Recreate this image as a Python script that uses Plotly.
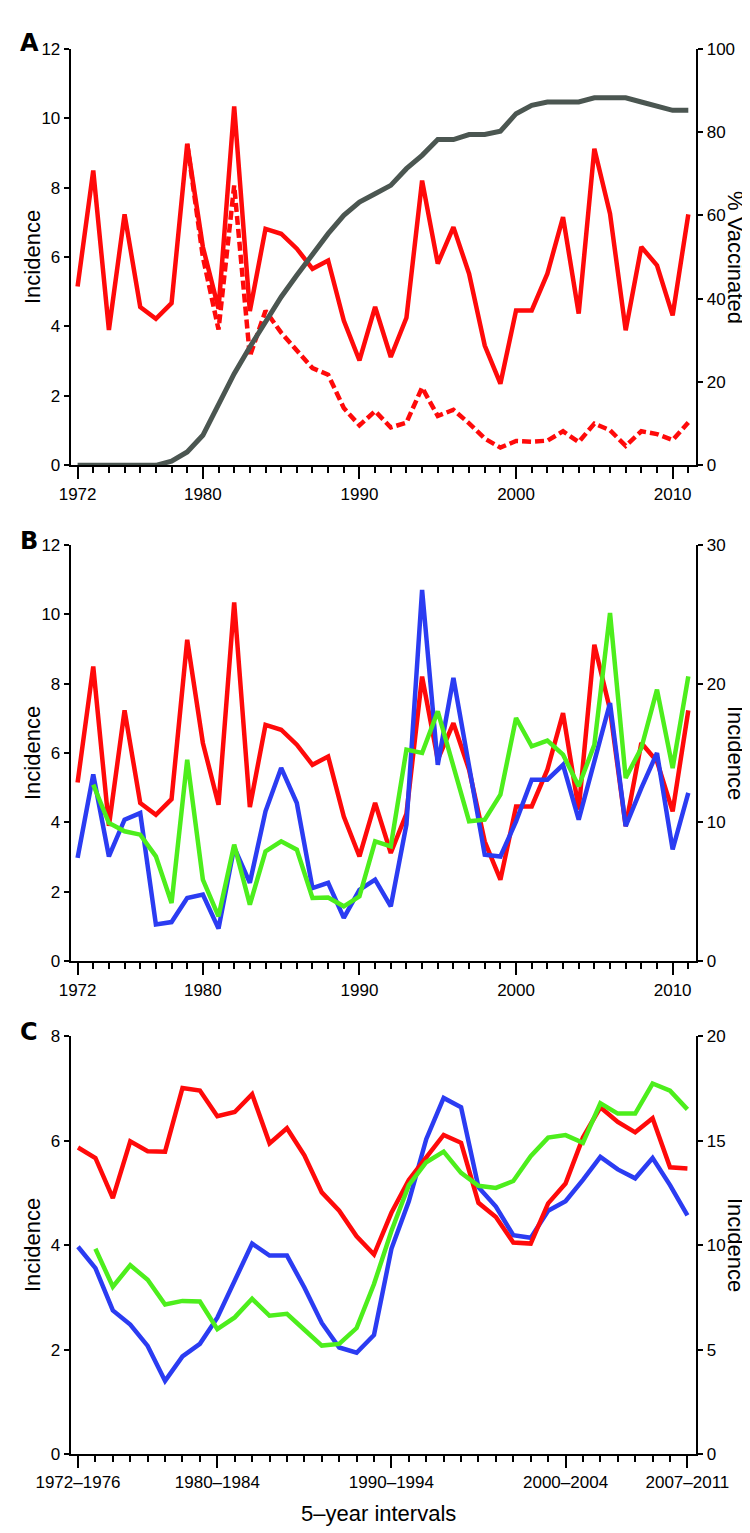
import plotly.graph_objects as go

# ---------------- data ----------------
years = list(range(1972, 2012))
years_dashed = list(range(1979, 2012))
years_green = list(range(1973, 2012))

incidence_all = [5.15, 8.49, 3.90, 7.23, 4.56, 4.22, 4.67, 9.26, 6.29, 4.51,
                 10.34, 4.44, 6.81, 6.67, 6.24, 5.66, 5.90, 4.17, 3.02, 4.56,
                 3.12, 4.25, 8.20, 5.81, 6.86, 5.52, 3.45, 2.35, 4.46, 4.46,
                 5.52, 7.15, 4.37, 9.12, 7.25, 3.89, 6.29, 5.76, 4.32, 7.23]

incidence_dashed = [9.26, 6.00, 3.91, 8.06, 3.14, 4.45, 3.82, 3.29, 2.80, 2.61,
                    1.65, 1.15, 1.56, 1.09, 1.23, 2.24, 1.42, 1.60, 1.21, 0.77,
                    0.51, 0.70, 0.68, 0.71, 0.98, 0.67, 1.20, 1.01, 0.56, 0.98,
                    0.90, 0.73, 1.23]

pct_vaccinated = [0, 0, 0, 0, 0, 0, 1.0, 3.2, 7.2, 14.8,
                  22.0, 28.4, 34.4, 40.4, 45.6, 50.8, 55.6, 60.0, 63.2, 65.2,
                  67.2, 71.2, 74.4, 78.2, 78.2, 79.4, 79.4, 80.2, 84.4, 86.4,
                  87.2, 87.2, 87.2, 88.2, 88.2, 88.2, 87.2, 86.2, 85.2, 85.2]

blue_b = [2.98, 5.38, 3.02, 4.08, 4.27, 1.06, 1.13, 1.82, 1.92, 0.94,
          3.28, 2.26, 4.32, 5.57, 4.56, 2.11, 2.26, 1.25, 2.06, 2.35,
          1.58, 3.94, 10.70, 5.66, 8.16, 5.57, 3.07, 3.02, 4.03, 5.23,
          5.23, 5.66, 4.08, 5.76, 7.44, 3.89, 4.99, 6.00, 3.22, 4.85]

green_b = [12.72, 9.96, 9.36, 9.12, 7.56, 4.20, 14.52, 5.88, 3.24, 8.40,
           4.08, 7.92, 8.64, 8.04, 4.56, 4.60, 3.96, 4.68, 8.64, 8.28,
           15.24, 15.00, 18.00, 14.16, 10.08, 10.20, 12.00, 17.52, 15.48, 15.89,
           14.88, 12.60, 15.60, 25.08, 13.20, 15.36, 19.56, 13.92, 20.52]

interval_start = list(range(1972, 2008))
interval_labels = [f"{y}\u2013{y + 4}" for y in interval_start]
interval_start_green = list(range(1973, 2008))

red_c = [5.87, 5.67, 4.90, 5.99, 5.80, 5.79, 7.01, 6.96, 6.47, 6.55,
         6.89, 5.95, 6.24, 5.72, 5.01, 4.66, 4.17, 3.82, 4.62, 5.25,
         5.68, 6.11, 5.96, 4.81, 4.54, 4.05, 4.03, 4.80, 5.18, 6.06,
         6.64, 6.36, 6.16, 6.43, 5.49, 5.47]

blue_c = [3.97, 3.56, 2.75, 2.48, 2.07, 1.40, 1.87, 2.11, 2.61, 3.32,
          4.03, 3.80, 3.80, 3.19, 2.51, 2.04, 1.94, 2.28, 3.93, 4.84,
          6.03, 6.82, 6.64, 5.11, 4.74, 4.19, 4.14, 4.66, 4.84, 5.25,
          5.69, 5.45, 5.28, 5.67, 5.15, 4.57]

green_c = [9.83, 8.01, 9.04, 8.34, 7.16, 7.33, 7.30, 5.98, 6.54, 7.43,
           6.62, 6.71, 5.95, 5.19, 5.27, 6.03, 8.14, 10.68, 12.87, 13.97,
           14.48, 13.46, 12.84, 12.74, 13.07, 14.26, 15.15, 15.27, 14.90, 16.79,
           16.30, 16.30, 17.74, 17.40, 16.50]

year_ticks = [1972, 1980, 1990, 2000, 2010]
interval_ticks = [1972, 1980, 1990, 2000, 2007]

# ---------------- styling ----------------
RED = "#FF0A0A"
GRAY = "#4B5651"
BLUE = "#2B3CF2"
GREEN = "#4DEE1C"
LW = 4.5
FONT = "Liberation Sans, Arial, Helvetica, sans-serif"
W, H = 750, 1533

def px_x(p):
    return p / W

def px_y(p):
    return 1 - p / H

XDOM = [px_x(62.7), px_x(688.3)]
DOM_A = [px_y(457.3), px_y(40.7)]
DOM_B = [px_y(953.3), px_y(536.7)]
DOM_C = [px_y(1446.0), px_y(1028.3)]

fig = go.Figure()

# Panel A
fig.add_trace(go.Scatter(x=years, y=pct_vaccinated, mode="lines", xaxis="x", yaxis="y2",
                         line=dict(color=GRAY, width=5)))
fig.add_trace(go.Scatter(x=years_dashed, y=incidence_dashed, mode="lines", xaxis="x", yaxis="y",
                         line=dict(color=RED, width=LW, dash="9px,4px")))
fig.add_trace(go.Scatter(x=years, y=incidence_all, mode="lines", xaxis="x", yaxis="y",
                         line=dict(color=RED, width=LW)))

# Panel B
fig.add_trace(go.Scatter(x=years, y=incidence_all, mode="lines", xaxis="x2", yaxis="y3",
                         line=dict(color=RED, width=LW)))
fig.add_trace(go.Scatter(x=years, y=blue_b, mode="lines", xaxis="x2", yaxis="y3",
                         line=dict(color=BLUE, width=LW)))
fig.add_trace(go.Scatter(x=years_green, y=green_b, mode="lines", xaxis="x2", yaxis="y4",
                         line=dict(color=GREEN, width=LW)))

# Panel C
fig.add_trace(go.Scatter(x=interval_start, y=blue_c, mode="lines", xaxis="x3", yaxis="y5",
                         line=dict(color=BLUE, width=LW)))
fig.add_trace(go.Scatter(x=interval_start_green, y=green_c, mode="lines", xaxis="x3", yaxis="y6",
                         line=dict(color=GREEN, width=LW)))
fig.add_trace(go.Scatter(x=interval_start, y=red_c, mode="lines", xaxis="x3", yaxis="y5",
                         line=dict(color=RED, width=LW)))

tickfont = dict(family=FONT, size=17, color="black")

def xaxis(anchor, rng, tickvals, ticktext):
    return dict(domain=XDOM, anchor=anchor, range=rng, showline=True, linecolor="black",
                linewidth=2, ticks="outside", ticklen=12, tickwidth=2, tickcolor="black",
                tickmode="array", tickvals=tickvals, ticktext=ticktext, tickfont=tickfont,
                showgrid=False, zeroline=False, fixedrange=True, automargin=False,
                minor=dict(ticks="outside", ticklen=6, tickwidth=2, tickcolor="black",
                           tickmode="linear", tick0=1972, dtick=1, showgrid=False))

def yaxis(anchor, dom, rng, dtick, side="left", overlaying=None):
    d = dict(anchor=anchor, range=rng, showline=True, linecolor="black", linewidth=2,
             ticks="outside", ticklen=5, tickwidth=2, tickcolor="black", dtick=dtick,
             tick0=0, tickfont=tickfont, showgrid=False, zeroline=False, side=side,
             fixedrange=True, automargin=False)
    if overlaying:
        d["overlaying"] = overlaying
    else:
        d["domain"] = dom
    return d

fig.update_layout(
    template="none",
    width=W, height=H, autosize=False,
    margin=dict(l=0, r=0, t=0, b=0, pad=0),
    paper_bgcolor="white", plot_bgcolor="white",
    showlegend=False,
    xaxis=xaxis("y", [1971.56, 2011.51], year_ticks, [str(v) for v in year_ticks]),
    xaxis2=xaxis("y3", [1971.56, 2011.51], year_ticks, [str(v) for v in year_ticks]),
    xaxis3=xaxis("y5", [1971.58, 2007.51], interval_ticks,
                 [interval_labels[interval_start.index(v)] for v in interval_ticks]),
    yaxis=yaxis("x", DOM_A, [0, 12], 2),
    yaxis2=yaxis("x", None, [0, 100], 20, side="right", overlaying="y"),
    yaxis3=yaxis("x2", DOM_B, [0, 12], 2),
    yaxis4=yaxis("x2", None, [0, 30], 10, side="right", overlaying="y3"),
    yaxis5=yaxis("x3", DOM_C, [0, 8], 2),
    yaxis6=yaxis("x3", None, [0, 20], 5, side="right", overlaying="y5"),
)

title_font = dict(family=FONT, size=22, color="black")
letter_font = dict(family="DejaVu Sans, Arial Black, sans-serif", size=24, color="black")

annotations = [
    dict(text="<b>A</b>", x=px_x(21), y=px_y(35), font=letter_font),
    dict(text="<b>B</b>", x=px_x(21), y=px_y(533), font=letter_font),
    dict(text="<b>C</b>", x=px_x(21), y=px_y(1024), font=letter_font),
    dict(text="Incidence", x=px_x(24), y=px_y(249), textangle=-90, font=title_font),
    dict(text="% Vaccinated", x=px_x(728), y=px_y(249), textangle=90, font=title_font),
    dict(text="Incidence", x=px_x(24), y=px_y(745), textangle=-90, font=title_font),
    dict(text="Incidence", x=px_x(728), y=px_y(745), textangle=90, font=title_font),
    dict(text="Incidence", x=px_x(24), y=px_y(1237), textangle=-90, font=title_font),
    dict(text="Incidence", x=px_x(728), y=px_y(1237), textangle=90, font=title_font),
    dict(text="5\u2013year intervals", x=px_x(370), y=px_y(1505), font=title_font),
]
for a in annotations:
    a.update(xref="paper", yref="paper", showarrow=False, xanchor="center", yanchor="middle")
fig.update_layout(annotations=annotations)

fig.write_html("out.html")
